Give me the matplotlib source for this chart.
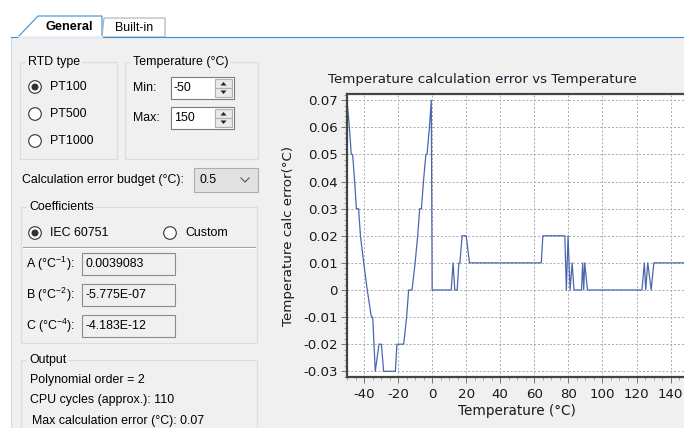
import matplotlib
matplotlib.use("Agg")
import matplotlib.pyplot as plt
from matplotlib.patches import Rectangle, Circle, Polygon

plt.rcParams["axes.unicode_minus"] = False

# error curve (turning points), deg C and error in deg C
temps = [-50, -48.6, -47.5, -46.7, -45.5, -44.5, -43.2, -42.1, -40.2, -38.1,
         -35.7, -34.9, -33.4, -31.2, -29.8, -28.5, -21.6, -20.7, -16.7, -15.0,
         -13.8, -11.8, -10.0, -8.5, -7.3, -6.3, -5.1, -3.7, -3.0, -1.6,
         -0.5, 0.0, 11.2, 12.3, 13.3, 14.7, 15.7, 16.3, 17.6, 20.0,
         21.9, 64.1, 65.0, 77.9, 78.8, 79.8, 81.0, 82.2, 83.3, 87.7,
         88.4, 89.0, 89.6, 91.2, 123.2, 124.6, 125.4, 126.6, 128.6, 130.2, 150]
errors = [0.07, 0.06, 0.05, 0.05, 0.04, 0.03, 0.03, 0.02, 0.01, 0.0,
          -0.01, -0.01, -0.03, -0.02, -0.02, -0.03, -0.03, -0.02, -0.02, -0.01,
          0.0, 0.0, 0.01, 0.02, 0.03, 0.03, 0.04, 0.05, 0.05, 0.06,
          0.07, 0.0, 0.0, 0.01, 0.0, 0.0, 0.01, 0.01, 0.02, 0.02,
          0.01, 0.01, 0.02, 0.02, 0.0, 0.02, 0.0, 0.01, 0.0, 0.0,
          0.01, 0.0, 0.01, 0.0, 0.0, 0.01, 0.0, 0.01, 0.0, 0.01, 0.01]

xticks = [-40, -20, 0, 20, 40, 60, 80, 100, 120, 140]
yticks = [-0.03, -0.02, -0.01, 0, 0.01, 0.02, 0.03, 0.04, 0.05, 0.06, 0.07]
ytick_labels = ["-0.03", "-0.02", "-0.01", "0", "0.01", "0.02", "0.03",
                "0.04", "0.05", "0.06", "0.07"]

# form contents
rtd_types = ["PT100", "PT500", "PT1000"]
temp_min, temp_max = "-50", "150"
error_budget = "0.5"
coef_labels = [r"A (°C$^{\mathregular{-1}}$):", r"B (°C$^{\mathregular{-2}}$):",
               r"C (°C$^{\mathregular{-4}}$):"]
coef_values = ["0.0039083", "-5.775E-07", "-4.183E-12"]
output_lines = ["Polynomial order = 2", "CPU cycles (approx.): 110",
                "Max calculation error (°C): 0.07"]

W, H = 684, 428
BG = "#f0f0f0"
UI_FONT = "Liberation Sans"
UI_SIZE = 8.9

fig = plt.figure(figsize=(W / 100, H / 100), dpi=100, facecolor="white")

# ---- the form, drawn in pixel coordinates ----
ui = fig.add_axes([0, 0, 1, 1])
ui.set_xlim(0, W)
ui.set_ylim(H, 0)
ui.axis("off")

def txt(x, y, s, **kw):
    kw.setdefault("fontsize", UI_SIZE)
    kw.setdefault("family", UI_FONT)
    kw.setdefault("color", "#000000")
    ui.text(x, y, s, va="center", ha=kw.pop("ha", "left"), **kw)

def group_box(x0, y0, x1, y1, title):
    ui.add_patch(Rectangle((x0, y0), x1 - x0, y1 - y0, fill=False,
                           ec="#dcdcdc", lw=0.8))
    txt(x0 + 8, y0, title, bbox=dict(fc=BG, ec="none", pad=1.2))

def radio(cx, cy, label, checked):
    ui.add_patch(Circle((cx, cy), 6.3, fc="white", ec="#333333", lw=0.8))
    if checked:
        ui.add_patch(Circle((cx, cy), 3.5, fc="#333333", ec="none"))
    txt(cx + 15, cy, label)

def box(x0, y0, x1, y1, fc="white", ec="#7a7a7a"):
    ui.add_patch(Rectangle((x0, y0), x1 - x0, y1 - y0, fc=fc, ec=ec, lw=0.8))

# tab page background
ui.add_patch(Rectangle((11, 37), W, H, fc=BG, ec="none"))
ui.plot([11, 11], [37, H], color="#d9d9d9", lw=0.8)
ui.plot([11, W], [37, 37], color="#3c8fd0", lw=0.8)
# tabs
ui.add_patch(Polygon([(18, 37), (38, 16), (102, 16), (102, 37)], closed=True,
                     fc="white", ec="#3c8fd0", lw=0.8))
ui.add_patch(Polygon([(102, 37), (104, 18), (165, 18), (165, 37)], closed=True,
                     fc="white", ec="#adadad", lw=0.8))
ui.plot([18.5, 101.5], [37, 37], color="white", lw=1.2)
txt(69, 27, "General", ha="center", fontweight="bold", fontsize=9.2)
txt(134, 28, "Built-in", ha="center")

# RTD type
group_box(20, 62, 117, 159, "RTD type")
for i, name in enumerate(rtd_types):
    radio(35, 87 + 27 * i, name, i == 0)

# Temperature range
group_box(125, 62, 258, 159, "Temperature (°C)")
for y, lab, val in [(88, "Min:", temp_min), (118, "Max:", temp_max)]:
    txt(133, y, lab)
    box(171, y - 11, 234, y + 11)
    txt(174, y, val)
    box(215, y - 9, 232, y, fc="#eaeaea", ec="#b0b0b0")
    box(215, y, 232, y + 9, fc="#eaeaea", ec="#b0b0b0")
    ui.add_patch(Polygon([(220.5, y - 2.5), (226.5, y - 2.5), (223.5, y - 6)],
                         fc="#222222", ec="none"))
    ui.add_patch(Polygon([(220.5, y + 2.5), (226.5, y + 2.5), (223.5, y + 6)],
                         fc="#222222", ec="none"))

# error budget combo
txt(22, 180, "Calculation error budget (°C):")
box(194, 168, 258, 192, fc="#e1e1e1", ec="#adadad")
txt(200, 180, error_budget)
ui.plot([241, 245, 249], [178, 182, 178], color="#555555", lw=0.8)

# Coefficients
group_box(21, 207, 257, 343, "Coefficients")
radio(35, 233, "IEC 60751", True)
radio(170, 233, "Custom", False)
ui.plot([23, 255], [247, 247], color="#a0a0a0", lw=0.8)
ui.plot([23, 255], [248.2, 248.2], color="white", lw=0.8)
for i, (lab, val) in enumerate(zip(coef_labels, coef_values)):
    y = 264 + 31 * i
    txt(26, y, lab)
    box(82, y - 11, 175, y + 11, fc=BG, ec="#8c8c8c")
    txt(86, y, val)

# Output
group_box(21, 360, 257, H + 20, "Output")
for i, line in enumerate(output_lines):
    txt(30 if i < 2 else 32, 380 + 20.5 * i, line)

# ---- the chart ----
x0, x1 = -50, 150
y0, y1 = -0.0321, 0.0723
pxdeg = 1.703
left = 347 / W
width = (x1 - x0) * pxdeg / W
bottom = 1 - 377 / H
height = (377 - 94) / H
ax = fig.add_axes([left, bottom, width, height])
ax.set_facecolor("white")
ax.plot(temps, errors, color="#4a67ad", lw=0.9)
ax.set_xlim(x0, x1)
ax.set_ylim(y0, y1)
ax.set_xticks(xticks)
ax.set_yticks(yticks)
ax.set_yticklabels(ytick_labels)
ax.set_xticks(range(-50, 151, 5), minor=True)
ax.set_yticks([v / 1000 for v in range(-32, 73, 2)], minor=True)
ax.grid(True, which="major", color="#a8a8a8", ls=(0, (2, 2)), lw=0.7)
ax.tick_params(which="major", length=4, width=0.7, color="#777777",
               labelsize=9.6, labelcolor="#1a1a1a", pad=2.5)
ax.tick_params(axis="x", which="major", pad=4)
ax.tick_params(which="minor", length=2.2, width=0.6, color="#999999")
for side in ["left", "bottom", "top"]:
    ax.spines[side].set_color("#444444")
    ax.spines[side].set_linewidth(1.6)
ax.spines["right"].set_visible(False)
ax.set_title("Temperature calculation error vs Temperature", fontsize=9.6,
             color="#1a1a2a", pad=8, x=(482.5 - 347) / (W * width))
ax.set_xlabel("Temperature (°C)", fontsize=9.8, color="#1a1a1a", labelpad=2)
ax.set_ylabel("Temperature calc error(°C)", fontsize=9.6, color="#1a1a1a",
              labelpad=6)

fig.savefig("out.png", dpi=100, facecolor="white")
